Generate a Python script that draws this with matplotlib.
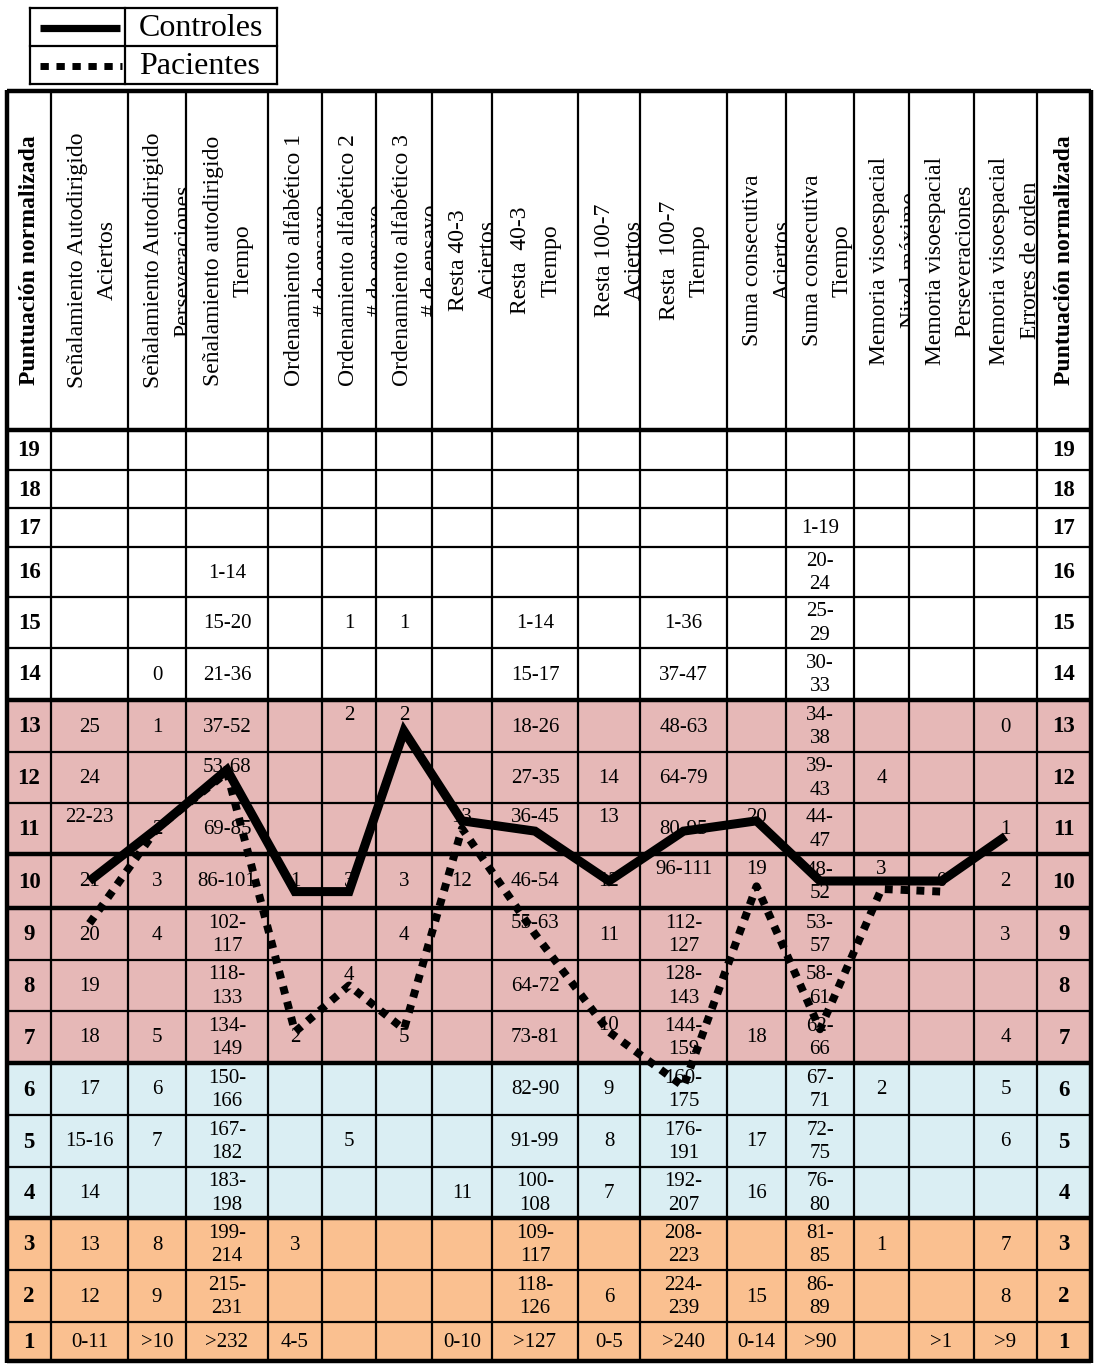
import numpy as np
import matplotlib
matplotlib.use("Agg")
import matplotlib.pyplot as plt
from matplotlib.patches import Rectangle

plt.rcParams['font.family'] = ['Liberation Serif', 'DejaVu Serif']

# ---------------- data ----------------
scores = list(range(19, 0, -1))          # normalised score, top row to bottom row
score_header = "Puntuación normalizada"

headers = [
    "Señalamiento Autodirigido\nAciertos",
    "Señalamiento Autodirigido\nPerseveraciones",
    "Señalamiento autodirigido\nTiempo",
    "Ordenamiento alfabético 1\n# de ensayo",
    "Ordenamiento alfabético 2\n# de ensayo",
    "Ordenamiento alfabético 3\n# de ensayo",
    "Resta 40-3\nAciertos",
    "Resta  40-3\nTiempo",
    "Resta 100-7\nAciertos",
    "Resta  100-7\nTiempo",
    "Suma consecutiva\nAciertos",
    "Suma consecutiva\nTiempo",
    "Memoria visoespacial\nNivel máximo",
    "Memoria visoespacial\nPerseveraciones",
    "Memoria visoespacial\nErrores de orden",
]

# raw-score ranges, one string per normalised score 19 ... 1
sen_aciertos = ["", "", "", "", "", "", "25", "24", "22-23", "21", "20", "19", "18", "17", "15-16", "14", "13", "12", "0-11"]
sen_persev = ["", "", "", "", "", "0", "1", "", "2", "3", "4", "", "5", "6", "7", "", "8", "9", ">10"]
sen_tiempo = ["", "", "", "1-14", "15-20", "21-36", "37-52", "53-68", "69-85", "86-101", "102-\n117", "118-\n133",
              "134-\n149", "150-\n166", "167-\n182", "183-\n198", "199-\n214", "215-\n231", ">232"]
ord1 = ["", "", "", "", "", "", "", "", "", "1", "", "", "2", "", "", "", "3", "", "4-5"]
ord2 = ["", "", "", "", "1", "", "2", "", "", "3", "", "4", "", "", "5", "", "", "", ""]
ord3 = ["", "", "", "", "1", "", "2", "", "", "3", "4", "", "5", "", "", "", "", "", ""]
r40_aciertos = ["", "", "", "", "", "", "", "", "13", "12", "", "", "", "", "", "11", "", "", "0-10"]
r40_tiempo = ["", "", "", "", "1-14", "15-17", "18-26", "27-35", "36-45", "46-54", "55-63", "64-72", "73-81",
              "82-90", "91-99", "100-\n108", "109-\n117", "118-\n126", ">127"]
r100_aciertos = ["", "", "", "", "", "", "", "14", "13", "12", "11", "", "10", "9", "8", "7", "", "6", "0-5"]
r100_tiempo = ["", "", "", "", "1-36", "37-47", "48-63", "64-79", "80-95", "96-111", "112-\n127", "128-\n143",
               "144-\n159", "160-\n175", "176-\n191", "192-\n207", "208-\n223", "224-\n239", ">240"]
suma_aciertos = ["", "", "", "", "", "", "", "", "20", "19", "", "", "18", "", "17", "16", "", "15", "0-14"]
suma_tiempo = ["", "", "1-19", "20-\n24", "25-\n29", "30-\n33", "34-\n38", "39-\n43", "44-\n47", "48-\n52",
               "53-\n57", "58-\n61", "62-\n66", "67-\n71", "72-\n75", "76-\n80", "81-\n85", "86-\n89", ">90"]
mem_nivel = ["", "", "", "", "", "", "", "4", "", "3", "", "", "", "2", "", "", "1", "", ""]
mem_persev = ["", "", "", "", "", "", "", "", "", "0", "", "", "", "", "", "", "", "", ">1"]
mem_errores = ["", "", "", "", "", "", "0", "", "1", "2", "3", "", "4", "5", "6", "", "7", "8", ">9"]

columns = [sen_aciertos, sen_persev, sen_tiempo, ord1, ord2, ord3, r40_aciertos, r40_tiempo,
           r100_aciertos, r100_tiempo, suma_aciertos, suma_tiempo, mem_nivel, mem_persev, mem_errores]

# normalised-score profiles (one value per test column)
controles = [10, 11, 12.15, 9.8, 9.8, 12.9, 11.15, 10.95, 10, 10.95, 11.15, 10, 10, 10, 10.85]
pacientes = [9.2, 11, 12.1, 7.1, 8, 7.15, 11, 9, 7.1, 6.05, 9.9, 7.15, 9.85, 9.8]
series_names = ["Controles", "Pacientes"]

# ---------------- layout ----------------
col_edges = np.array([7, 51, 128, 186, 268, 322, 376, 432, 492, 578, 640, 727, 786, 854, 909, 974, 1037, 1091])
row_edges = np.array([430, 470, 508, 547, 597, 648, 700, 752, 803, 854, 908, 960, 1011, 1063, 1115, 1167, 1218,
                      1270, 1322, 1361])
header_top = 91
thick_rows = {430, 700, 854, 908, 1063, 1218, 1361}
top_cells = {(11, 1), (12, 3), (13, 5), (13, 6), (11, 7), (11, 8), (9, 8), (11, 9), (10, 10),
             (11, 11), (10, 11), (8, 5), (7, 9), (10, 13)}

PINK, BLUE, ORANGE = "#E6B8B7", "#DAEEF3", "#FAC090"


def band_color(s):
    if 7 <= s <= 13:
        return PINK
    if 4 <= s <= 6:
        return BLUE
    if 1 <= s <= 3:
        return ORANGE
    return "white"


fig = plt.figure(figsize=(10.95, 13.66), dpi=100)
ax = fig.add_axes([0, 0, 1, 1])
ax.set_xlim(0, 1095)
ax.set_ylim(1366, 0)
ax.axis("off")

col_centers = (col_edges[:-1] + col_edges[1:]) / 2
row_centers = (row_edges[:-1] + row_edges[1:]) / 2

# background bands
for i, s in enumerate(scores):
    c = band_color(s)
    if c != "white":
        ax.add_patch(Rectangle((col_edges[0], row_edges[i]), col_edges[-1] - col_edges[0],
                               row_edges[i + 1] - row_edges[i], facecolor=c, edgecolor="none", zorder=0))

# grid lines
for x in col_edges[1:-1]:
    ax.plot([x, x], [header_top, row_edges[-1]], color="black", lw=1.6, zorder=2, solid_capstyle="butt")
for x in (col_edges[0], col_edges[-1]):
    ax.plot([x, x], [header_top - 1.5, row_edges[-1] + 1.5], color="black", lw=3.2, zorder=2,
            solid_capstyle="butt")
for y in [header_top] + list(row_edges):
    lw = 3.2 if (y in thick_rows or y == header_top) else 1.6
    ax.plot([col_edges[0], col_edges[-1]], [y, y], color="black", lw=lw, zorder=2, solid_capstyle="butt")

# header texts
hy = (header_top + row_edges[0]) / 2
for x0, x1 in ((col_edges[0], col_edges[1]), (col_edges[-2], col_edges[-1])):
    ax.text((x0 + x1) / 2 + 1, hy, score_header, rotation=90, ha="center", va="center",
            fontsize=17, fontweight="bold", zorder=3)
for j, h in enumerate(headers):
    left, right = col_edges[j + 1], col_edges[j + 2]
    clip = Rectangle((left, header_top), right - left - 1.5, row_edges[0] - header_top, transform=ax.transData,
                     facecolor="none", edgecolor="none")
    ax.add_patch(clip)
    first = max((left + right) / 2 - 14, left + 26)
    for k, line in enumerate(h.split("\n")):
        t = ax.text(first + 30 * k, hy, line, rotation=90, ha="center", va="center",
                    fontsize=17, zorder=3, clip_on=True)
        t.set_clip_path(clip)

# body texts
for i, s in enumerate(scores):
    for x0, x1 in ((col_edges[0], col_edges[1]), (col_edges[-2], col_edges[-1])):
        ax.text((x0 + x1) / 2, row_centers[i] + 1, str(s), ha="center", va="center",
                fontsize=16.5, fontweight="bold", zorder=3)
    for j, col in enumerate(columns):
        txt = col[i]
        if not txt:
            continue
        y = row_edges[i] + 15 if (s, j + 1) in top_cells else row_centers[i] + 1
        ax.text(col_centers[j + 1], y, txt, ha="center", va="center", fontsize=15,
                linespacing=1.3, zorder=3)


# profiles
def score_to_y(v):
    return np.interp(v, scores[::-1], row_centers[::-1])


xc = col_centers[1:1 + len(controles)]
ax.plot(xc, score_to_y(np.array(controles)), color="black", lw=6.5, solid_joinstyle="miter",
        solid_capstyle="butt", zorder=5)
xp = col_centers[1:1 + len(pacientes)]
ax.plot(xp, score_to_y(np.array(pacientes)), color="black", lw=5.7, linestyle=(0, (1, 1.0)),
        dash_capstyle="butt", zorder=4)

# legend (small 2x2 table)
lx0, lx1, lxm = 30, 277, 125
ly0, ly1, lym = 8, 84, 46
for a, b in [((lx0, lx1), (ly0, ly0)), ((lx0, lx1), (ly1, ly1)), ((lx0, lx1), (lym, lym)),
             ((lx0, lx0), (ly0, ly1)), ((lx1, lx1), (ly0, ly1)), ((lxm, lxm), (ly0, ly1))]:
    ax.plot(a, b, color="black", lw=1.6, solid_capstyle="projecting", zorder=2)
ax.plot([40, 120], [(ly0 + lym) / 2 + 1, (ly0 + lym) / 2 + 1], color="black", lw=5.2, solid_capstyle="butt")
ax.plot([40, 122], [(lym + ly1) / 2 + 1, (lym + ly1) / 2 + 1], color="black", lw=5,
        linestyle=(0, (1.2, 1.1)), dash_capstyle="butt")
ax.text(139, (ly0 + lym) / 2 + 1, series_names[0], ha="left", va="center", fontsize=23)
ax.text(139, (lym + ly1) / 2 + 1, series_names[1], ha="left", va="center", fontsize=23)

fig.savefig("out.png", dpi=100)
